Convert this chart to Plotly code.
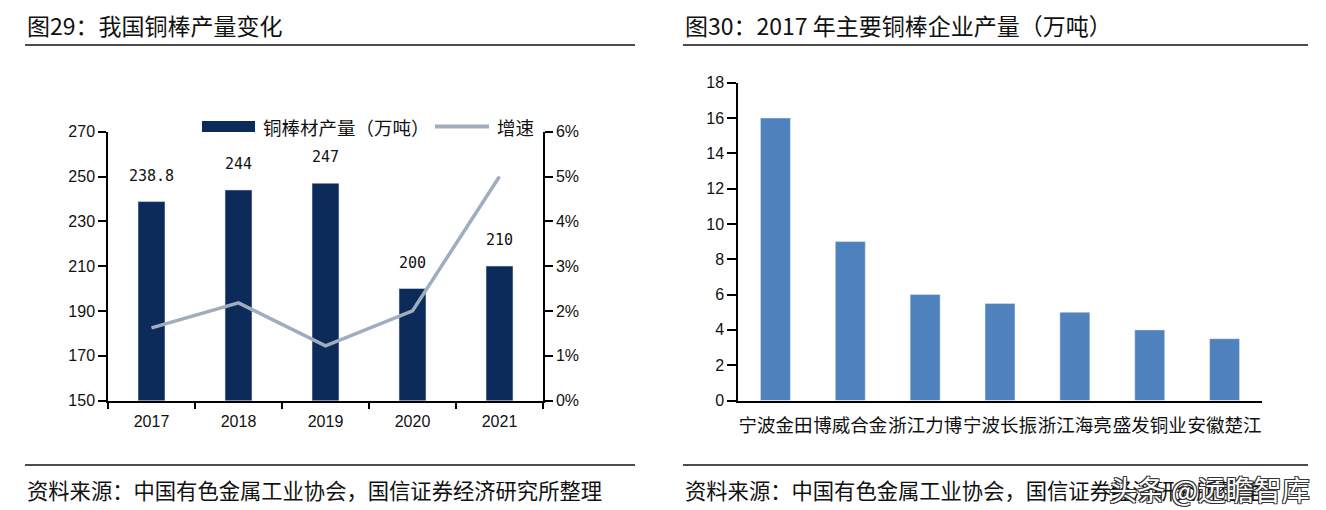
import plotly.graph_objects as go

# ---- data ----
years = ["2017", "2018", "2019", "2020", "2021"]
output_wt = [238.8, 244, 247, 200, 210]          # 万吨
output_labels = ["238.8", "244", "247", "200", "210"]
growth = [0.0162, 0.0218, 0.0122, 0.0200, 0.0500]  # 增速

companies = ["宁波金田", "博威合金", "浙江力博", "宁波长振", "浙江海亮", "盛发铜业", "安徽楚江"]
company_output = [16, 9, 6, 5.5, 5, 4, 3.5]

W, H = 1326, 510
def px(x): return x / W
def py(y): return 1 - y / H

NAVY = "#0c2b5b"
GREY = "#9fadbd"
BLUE = "#4f81bd"
FONT = "Liberation Sans, Noto Sans CJK SC"
CJK = "Noto Sans CJK SC"

fig = go.Figure()

fig.add_trace(go.Bar(x=years, y=output_wt, marker_color=NAVY, width=0.31,
                     xaxis="x", yaxis="y", name="铜棒材产量（万吨）", showlegend=False))
fig.add_trace(go.Scatter(x=years, y=growth, mode="lines", line=dict(color=GREY, width=3.5),
                         xaxis="x", yaxis="y2", name="增速", showlegend=False))
fig.add_trace(go.Bar(x=companies, y=company_output, marker_color=BLUE, width=0.4,
                     xaxis="x3", yaxis="y3", showlegend=False))

axis_common = dict(showgrid=False, zeroline=False, showline=True, linecolor="black",
                   linewidth=1.5, tickcolor="black", tickwidth=1.5, automargin=False,
                   tickfont=dict(family=FONT, size=16, color="#111"))

fig.update_layout(
    width=W, height=H, margin=dict(l=0, r=0, t=0, b=0, pad=0, autoexpand=False),
    paper_bgcolor="white", plot_bgcolor="white",
    font=dict(family=FONT, color="#111"),
    showlegend=False,
    xaxis=dict(domain=[px(108), px(543)], anchor="y", ticks="outside", ticklen=7,
               tickson="boundaries", type="category", tickangle=0, ticklabelstandoff=6,
               range=[-0.5, len(years) - 0.5], **axis_common),
    yaxis=dict(domain=[py(400.5), py(131.7)], anchor="x", range=[150, 270], dtick=20, tick0=150,
               ticks="outside", ticklen=8, **axis_common),
    yaxis2=dict(overlaying="y", anchor="x", side="right", range=[0, 0.06], dtick=0.01, tick0=0,
                tickformat=".0%", ticks="outside", ticklen=8, **axis_common),
    xaxis3=dict(domain=[px(738), px(1262)], anchor="y3", ticks="", type="category", tickangle=0,
                range=[-0.5, len(companies) - 0.5], ticklabelstandoff=8,
                **{**axis_common, "tickfont": dict(family=CJK, size=18.5, color="#111")}),
    yaxis3=dict(domain=[py(400.5), py(82.7)], anchor="x3", range=[0, 18], dtick=2, tick0=0,
                ticks="outside", ticklen=9, **axis_common),
)

ann = []
# data labels
for i, (v, lab) in enumerate(zip(output_wt, output_labels)):
    ann.append(dict(x=i, y=v, xref="x", yref="y", text=lab, showarrow=False,
                    yanchor="bottom", yshift=15,
                    font=dict(family="DejaVu Sans Mono", size=15, color="#111")))
# titles
ann.append(dict(x=px(25), y=py(25), xref="paper", yref="paper", xanchor="left", yanchor="middle",
                text="图29：我国铜棒产量变化", showarrow=False,
                font=dict(family=CJK, size=23, color="#111")))
ann.append(dict(x=px(683), y=py(25), xref="paper", yref="paper", xanchor="left", yanchor="middle",
                text="图30：2017 年主要铜棒企业产量（万吨）", showarrow=False,
                font=dict(family=CJK, size=23, color="#111")))
# footers
for x0 in (25, 683):
    ann.append(dict(x=px(x0), y=py(489), xref="paper", yref="paper", xanchor="left", yanchor="middle",
                    text="资料来源：中国有色金属工业协会，国信证券经济研究所整理", showarrow=False,
                    font=dict(family=CJK, size=21.3, color="#111")))
# legend texts
ann.append(dict(x=px(261), y=py(126.5), xref="paper", yref="paper", xanchor="left", yanchor="middle",
                text="铜棒材产量（万吨）", showarrow=False, font=dict(family=CJK, size=18.5, color="#111")))
ann.append(dict(x=px(495), y=py(126.5), xref="paper", yref="paper", xanchor="left", yanchor="middle",
                text="增速", showarrow=False, font=dict(family=CJK, size=18.5, color="#111")))
# watermark
ann.append(dict(x=px(1312), y=py(489), xref="paper", yref="paper", xanchor="right", yanchor="middle",
                text="头条 @远瞻智库", showarrow=False,
                font=dict(family=CJK, size=28, color="white",
                          shadow="-1px -1px 0 #333, 1px -1px 0 #333, -1px 1px 0 #333, 1px 1px 0 #333")))
fig.update_layout(annotations=ann)

shapes = []
for x0, x1 in ((25, 635), (683, 1308)):
    for yy in (45, 465):
        shapes.append(dict(type="line", xref="paper", yref="paper", x0=px(x0), x1=px(x1),
                           y0=py(yy), y1=py(yy), line=dict(color="#111", width=1.5)))
# legend swatches
shapes.append(dict(type="rect", xref="paper", yref="paper", x0=px(202), x1=px(255),
                   y0=py(132), y1=py(121), fillcolor=NAVY, line=dict(width=0)))
shapes.append(dict(type="line", xref="paper", yref="paper", x0=px(435), x1=px(489),
                   y0=py(126.5), y1=py(126.5), line=dict(color=GREY, width=4)))
fig.update_layout(shapes=shapes)

fig.write_html("out.html", config={"displayModeBar": False},
               post_script="document.body.style.margin='0';document.body.style.overflow='hidden';")
